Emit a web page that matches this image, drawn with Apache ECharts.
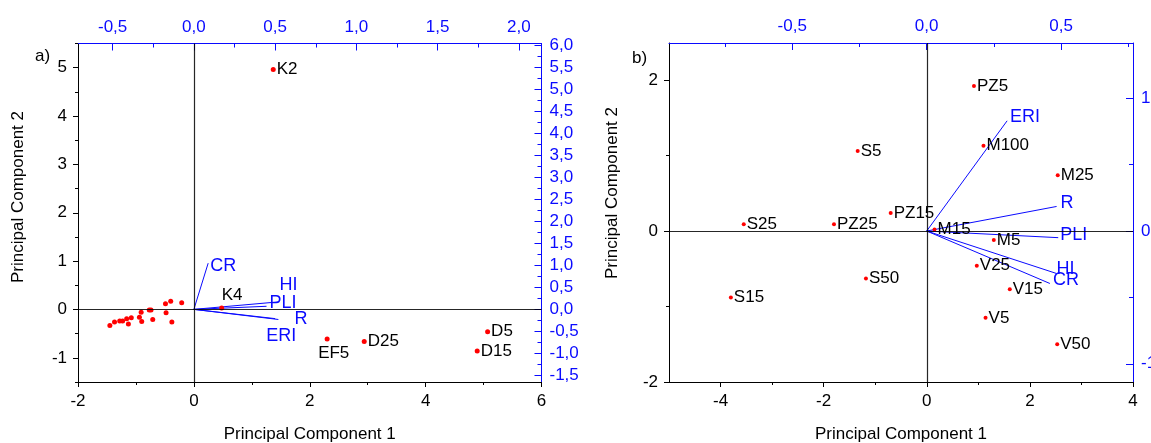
<!DOCTYPE html>
<html>
<head>
<meta charset="utf-8">
<script src="https://cdn.jsdelivr.net/npm/echarts@6/dist/echarts.min.js"></script>
<style>
html, body { margin: 0; padding: 0; background: #fff; }
#main { width: 1151px; height: 443px; }
</style>
</head>
<body>
<div id="main"></div>
<script>
// panel a) scores
var aNames = ['K2', 'K4', 'EF5', 'D25', 'D5', 'D15'];
var aPC1 = [1.37, 0.48, 2.30, 2.94, 5.07, 4.89];
var aPC2 = [4.96, 0.03, -0.61, -0.66, -0.46, -0.86];
var aOtherPC1 = [-1.45, -1.37, -1.28, -1.23, -1.16, -1.13, -1.08, -0.94, -0.91, -0.90, -0.77, -0.74, -0.71, -0.49, -0.48, -0.40, -0.38, -0.21];
var aOtherPC2 = [-0.33, -0.26, -0.24, -0.24, -0.19, -0.30, -0.17, -0.16, -0.06, -0.25, -0.01, -0.01, -0.21, 0.12, -0.07, 0.17, -0.26, 0.14];
// panel a) loadings
var aVars = ['CR', 'HI', 'PLI', 'R', 'ERI'];
var aLoad1 = [0.088, 0.52, 0.447, 0.52, 0.50];
var aLoad2 = [1.05, 0.17, 0.07, -0.23, -0.21];

// panel b) scores
var bNames = ['PZ5', 'S5', 'M100', 'M25', 'PZ15', 'S25', 'PZ25', 'M15', 'M5', 'V25', 'S50', 'V15', 'S15', 'V5', 'V50'];
var bPC1 = [0.915, -1.34, 1.10, 2.54, -0.70, -3.55, -1.80, 0.15, 1.30, 0.97, -1.18, 1.61, -3.80, 1.14, 2.53];
var bPC2 = [1.92, 1.06, 1.13, 0.74, 0.24, 0.09, 0.09, 0.02, -0.12, -0.46, -0.63, -0.77, -0.88, -1.15, -1.50];
// panel b) loadings
var bVars = ['ERI', 'R', 'PLI', 'HI', 'CR'];
var bLoad1 = [0.299, 0.483, 0.489, 0.483, 0.458];
var bLoad2 = [0.83, 0.185, -0.05, -0.32, -0.395];

// ticks
var aBottomMajor = [-2, 0, 2, 4, 6], aBottomMinor = [-1, 1, 3, 5];
var aLeftMajor = [-1, 0, 1, 2, 3, 4, 5], aLeftMinor = [-1.5, -0.5, 0.5, 1.5, 2.5, 3.5, 4.5, 5.5];
var aTopMajor = [-0.5, 0, 0.5, 1, 1.5, 2], aTopMinor = [-0.25, 0.25, 0.75, 1.25, 1.75];
var aRightMajor = [-1.5, -1, -0.5, 0, 0.5, 1, 1.5, 2, 2.5, 3, 3.5, 4, 4.5, 5, 5.5, 6];
var aRightMinor = [-1.25, -0.75, -0.25, 0.25, 0.75, 1.25, 1.75, 2.25, 2.75, 3.25, 3.75, 4.25, 4.75, 5.25, 5.75];
var bBottomMajor = [-4, -2, 0, 2, 4], bBottomMinor = [-3, -1, 1, 3];
var bLeftMajor = [-2, 0, 2], bLeftMinor = [-1, 1];
var bTopMajor = [-0.5, 0, 0.5], bTopMinor = [-0.75, -0.25, 0.25, 0.75];
var bRightMajor = [-1, 0, 1], bRightMinor = [-0.5, 0.5];

var BLUE = '#0a0aff';
var FONT = '"Liberation Sans", Arial, sans-serif';

function comma(v) { return v.toFixed(1).replace('.', ','); }
function plain(v) { return String(v); }

var xAxes = [], yAxes = [];
function addAxis(list, grid, pos, min, max, major, minor, color, inside, fmt, margin) {
	list.push({
		type: 'value', gridIndex: grid, position: pos, min: min, max: max,
		axisLine: { show: true, onZero: false, lineStyle: { color: color, width: 1 } },
		axisTick: { show: true, inside: inside, length: inside ? 7 : 5, customValues: major, lineStyle: { color: color } },
		axisLabel: { show: true, customValues: major, formatter: fmt, color: color, fontSize: 17, fontFamily: FONT, margin: margin },
		splitLine: { show: false }
	});
	var idx = list.length - 1;
	list.push({
		type: 'value', gridIndex: grid, position: pos, min: min, max: max,
		axisLine: { show: false, onZero: false },
		axisTick: { show: true, inside: inside, length: inside ? 4 : 3, customValues: minor, lineStyle: { color: color } },
		axisLabel: { show: false },
		splitLine: { show: false }
	});
	return idx;
}

var aX = addAxis(xAxes, 0, 'bottom', -2, 6, aBottomMajor, aBottomMinor, '#000', false, plain, 11);
var aXt = addAxis(xAxes, 0, 'top', -0.713, 2.139, aTopMajor, aTopMinor, BLUE, true, comma, 8);
var aY = addAxis(yAxes, 0, 'left', -1.5, 5.5, aLeftMajor, aLeftMinor, '#000', false, plain, 11);
var aYr = addAxis(yAxes, 0, 'right', -1.65, 6.04, aRightMajor, aRightMinor, BLUE, true, comma, 8);
var bX = addAxis(xAxes, 1, 'bottom', -5, 4, bBottomMajor, bBottomMinor, '#000', false, plain, 11);
var bXt = addAxis(xAxes, 1, 'top', -0.958, 0.767, bTopMajor, bTopMinor, BLUE, true, comma, 8);
var bY = addAxis(yAxes, 1, 'left', -2, 2.49, bLeftMajor, bLeftMinor, '#000', false, plain, 11);
var bYr = addAxis(yAxes, 1, 'right', -1.137, 1.416, bRightMajor, bRightMinor, BLUE, true, plain, 8);

xAxes[aX].name = 'Principal Component 1';
xAxes[bX].name = 'Principal Component 1';
[aX, bX].forEach(function(i) {
	xAxes[i].nameLocation = 'middle';
	xAxes[i].nameGap = 44;
	xAxes[i].nameTextStyle = { color: '#000', fontSize: 17, fontFamily: FONT };
});

// label placement tweaks (px)
var scoreShift = { K4: [-3.5, -13], EF5: [-12.5, 14] };
var aVarShift = { CR: [2, 3], HI: [1, -17], PLI: [3, -3], R: [16, 0], ERI: [-9, 17] };
var bVarShift = { ERI: [3, -4], R: [4, -3], PLI: [2, -3], HI: [0, -4], CR: [3, -3] };

function scorePoints(names, xs, ys) {
	return names.map(function(n, i) {
		var d = { name: n, value: [xs[i], ys[i]] };
		if (scoreShift[n]) d.label = { offset: scoreShift[n] };
		return d;
	});
}
function varLines(xs, ys) {
	return xs.map(function(x, i) { return { coords: [[0, 0], [x, ys[i]]] }; });
}
function varEnds(names, xs, ys, shift) {
	return names.map(function(n, i) {
		return { name: n, value: [xs[i], ys[i]], label: { offset: shift[n] } };
	});
}

var zeroLines = {
	silent: true, symbol: ['none', 'none'], label: { show: false },
	lineStyle: { color: '#000', width: 1.2, type: 'solid', opacity: 0.85 },
	data: [{ xAxis: 0 }, { yAxis: 0 }]
};

var aOther = aOtherPC1.map(function(x, i) { return { name: '', value: [x, aOtherPC2[i]] }; });

var varLabel = { show: true, position: 'right', distance: 0, formatter: '{b}', color: BLUE, opacity: 1, fontSize: 18, fontFamily: FONT };
var scoreLabel = { show: true, position: 'right', distance: 1, formatter: '{b}', color: '#000', opacity: 1, fontSize: 17, fontFamily: FONT };

var option = {
	animation: false,
	backgroundColor: '#fff',
	grid: [
		{ left: 78, right: 609.5, top: 43.5, bottom: 61, containLabel: false, outerBoundsMode: 'none' },
		{ left: 669, right: 18, top: 43, bottom: 61, containLabel: false, outerBoundsMode: 'none' }
	],
	xAxis: xAxes,
	yAxis: yAxes,
	graphic: [
		{ type: 'text', x: 35, y: 56, style: { text: 'a)', font: '17px ' + FONT, fill: '#000', verticalAlign: 'middle' } },
		{ type: 'text', x: 632, y: 58, style: { text: 'b)', font: '17px ' + FONT, fill: '#000', verticalAlign: 'middle' } },
		{ type: 'text', x: 18, y: 197, rotation: Math.PI / 2, style: { text: 'Principal Component 2', font: '17px ' + FONT, fill: '#000', align: 'center', verticalAlign: 'middle' } },
		{ type: 'text', x: 612, y: 193, rotation: Math.PI / 2, style: { text: 'Principal Component 2', font: '17px ' + FONT, fill: '#000', align: 'center', verticalAlign: 'middle' } }
	],
	series: [
		{
			type: 'lines', coordinateSystem: 'cartesian2d', xAxisIndex: aXt, yAxisIndex: aYr,
			data: varLines(aLoad1, aLoad2), silent: true,
			lineStyle: { color: BLUE, width: 1, opacity: 1 }
		},
		{
			type: 'scatter', xAxisIndex: aXt, yAxisIndex: aYr, symbolSize: 0,
			itemStyle: { color: BLUE, opacity: 1 },
			data: varEnds(aVars, aLoad1, aLoad2, aVarShift),
			label: varLabel
		},
		{
			type: 'scatter', xAxisIndex: aX, yAxisIndex: aY, symbolSize: 5,
			itemStyle: { color: '#ff0000', opacity: 1 },
			data: scorePoints(aNames, aPC1, aPC2).concat(aOther),
			label: scoreLabel,
			markLine: zeroLines
		},
		{
			type: 'lines', coordinateSystem: 'cartesian2d', xAxisIndex: bXt, yAxisIndex: bYr,
			data: varLines(bLoad1, bLoad2), silent: true,
			lineStyle: { color: BLUE, width: 1, opacity: 1 }
		},
		{
			type: 'scatter', xAxisIndex: bXt, yAxisIndex: bYr, symbolSize: 0,
			itemStyle: { color: BLUE, opacity: 1 },
			data: varEnds(bVars, bLoad1, bLoad2, bVarShift),
			label: varLabel
		},
		{
			type: 'scatter', xAxisIndex: bX, yAxisIndex: bY, symbolSize: 4,
			itemStyle: { color: '#ff0000', opacity: 1 },
			data: scorePoints(bNames, bPC1, bPC2),
			label: scoreLabel,
			markLine: zeroLines
		}
	]
};

var chart = echarts.init(document.getElementById('main'));
chart.setOption(option);
window.addEventListener('resize', chart.resize);
</script>
</body>
</html>
